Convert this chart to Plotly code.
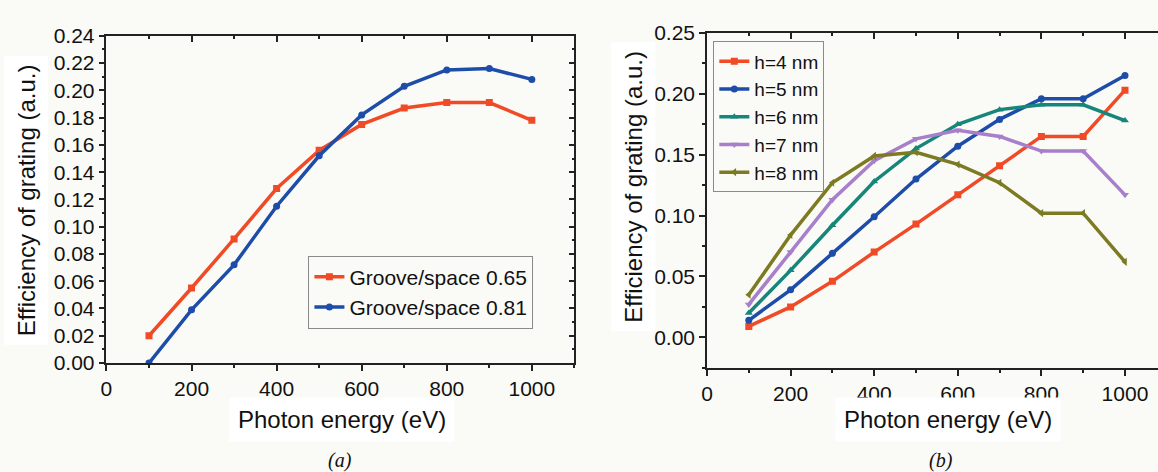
import plotly.graph_objects as go

# ---------------- data ----------------
energy = [100, 200, 300, 400, 500, 600, 700, 800, 900, 1000]

groove_065 = [0.020, 0.055, 0.091, 0.128, 0.156, 0.175, 0.187, 0.191, 0.191, 0.178]
groove_081 = [0.000, 0.039, 0.072, 0.115, 0.152, 0.182, 0.203, 0.215, 0.216, 0.208]

h4 = [0.009, 0.025, 0.046, 0.070, 0.093, 0.117, 0.141, 0.165, 0.165, 0.203]
h5 = [0.014, 0.039, 0.069, 0.099, 0.130, 0.157, 0.179, 0.196, 0.196, 0.215]
h6 = [0.020, 0.055, 0.092, 0.128, 0.155, 0.175, 0.187, 0.191, 0.191, 0.178]
h7 = [0.027, 0.070, 0.113, 0.145, 0.163, 0.170, 0.165, 0.153, 0.153, 0.117]
h8 = [0.035, 0.084, 0.127, 0.149, 0.152, 0.142, 0.127, 0.102, 0.102, 0.062]

left_names = ["Groove/space 0.65", "Groove/space 0.81"]
right_names = ["h=4 nm", "h=5 nm", "h=6 nm", "h=7 nm", "h=8 nm"]
x_ticks = [0, 200, 400, 600, 800, 1000]

RED = "#F04A26"
BLUE = "#1D4DA8"
TEAL = "#17867A"
PURPLE = "#A77FCB"
OLIVE = "#7C7A22"
BG = "#FAFAF6"
FONT = "Liberation Sans, Arial, sans-serif"

fig = go.Figure()

def add(x, y, name, color, symbol, xa, ya, legend):
    fig.add_trace(go.Scatter(
        x=x, y=y, name=name, mode="lines+markers",
        line=dict(color=color, width=3.5),
        marker=dict(color=color, symbol=symbol, size=7),
        xaxis=xa, yaxis=ya, legend=legend))

add(energy, groove_065, left_names[0], RED, "square", "x", "y", "legend")
add(energy, groove_081, left_names[1], BLUE, "circle", "x", "y", "legend")

series = [h4, h5, h6, h7, h8]
colors = [RED, BLUE, TEAL, PURPLE, OLIVE]
symbols = ["square", "circle", "triangle-up", "triangle-down", "triangle-left"]
for s, n, c, m in zip(series, right_names, colors, symbols):
    add(energy, s, n, c, m, "x2", "y2", "legend2")

# dummy traces to activate mirrored tick axes
fig.add_trace(go.Scatter(x=[None], y=[None], xaxis="x3", yaxis="y3",
                         showlegend=False, hoverinfo="skip"))
fig.add_trace(go.Scatter(x=[None], y=[None], xaxis="x4", yaxis="y2",
                         showlegend=False, hoverinfo="skip"))

tickfont = dict(family=FONT, size=21, color="#111111")
axis_common = dict(showgrid=False, zeroline=False, showline=True,
                   linecolor="#222222", linewidth=1.5, tickcolor="#222222",
                   tickwidth=1.5, tickfont=tickfont)
minor_out_x = dict(dtick=100, tick0=0, ticks="outside", ticklen=3,
                   tickcolor="#222222", tickwidth=1.5)
minor_in_x = dict(dtick=100, tick0=0, ticks="inside", ticklen=3,
                  tickcolor="#222222", tickwidth=1.5)

XL = [0.0872, 0.4934]
YL = [0.2182, 0.947]
XR = [0.6085, 1.0]
YR = [0.2076, 0.9534]

fig.update_layout(
    width=1158, height=472,
    margin=dict(l=0, r=0, t=0, b=0),
    paper_bgcolor=BG, plot_bgcolor=BG,
    xaxis=dict(domain=XL, anchor="y", range=[0, 1100], tickvals=x_ticks,
               ticks="outside", ticklen=6, minor=minor_out_x, **axis_common),
    yaxis=dict(domain=YL, anchor="x", range=[0, 0.24], dtick=0.02, tick0=0,
               tickformat=".2f", ticks="outside", ticklen=6,
               minor=dict(dtick=0.01, tick0=0, ticks="outside", ticklen=3,
                          tickcolor="#222222", tickwidth=1.5),
               **axis_common),
    xaxis3=dict(overlaying="x", anchor="y", side="top", range=[0, 1100],
                tickvals=x_ticks, ticks="inside", ticklen=6,
                showticklabels=False, minor=minor_in_x, **axis_common),
    yaxis3=dict(overlaying="y", anchor="x", side="right", range=[0, 0.24],
                dtick=0.02, tick0=0, ticks="inside", ticklen=6,
                showticklabels=False,
                minor=dict(dtick=0.01, tick0=0, ticks="inside", ticklen=3,
                           tickcolor="#222222", tickwidth=1.5),
                **axis_common),
    xaxis2=dict(domain=XR, anchor="y2", range=[0, 1079], tickvals=x_ticks,
                ticks="outside", ticklen=6, minor=minor_out_x, **axis_common),
    yaxis2=dict(domain=YR, anchor="x2", range=[-0.025, 0.25], dtick=0.05,
                tick0=0, tickformat=".2f", ticks="outside", ticklen=6,
                minor=dict(dtick=0.025, tick0=0, ticks="outside", ticklen=3,
                           tickcolor="#222222", tickwidth=1.5),
                **axis_common),
    xaxis4=dict(overlaying="x2", anchor="y2", side="top", range=[0, 1079],
                tickvals=x_ticks, ticks="inside", ticklen=6,
                showticklabels=False, minor=minor_in_x, **axis_common),
    legend=dict(x=304 / 1158, y=(472 - 256) / 472, xanchor="left", yanchor="top",
                bgcolor=BG, bordercolor="#8a8a8a", borderwidth=1,
                font=dict(family=FONT, size=21, color="#111111"),
                tracegroupgap=0, itemwidth=30),
    legend2=dict(x=711 / 1158, y=(472 - 31) / 472, xanchor="left", yanchor="top",
                 bgcolor=BG, bordercolor="#8a8a8a", borderwidth=1,
                 font=dict(family=FONT, size=19, color="#111111"),
                 tracegroupgap=0, itemwidth=30),
    showlegend=True,
)

title_font = dict(family=FONT, size=24, color="#111111")
ann = [
    dict(text="Efficiency of grating (a.u.)", x=20 / 1158, y=(472 - 198) / 472,
         textangle=-90, font=title_font),
    dict(text="Efficiency of grating (a.u.)", x=630 / 1158, y=(472 - 184) / 472,
         textangle=-90, font=title_font),
    dict(text="Photon energy (eV)", x=338 / 1158, y=(472 - 428) / 472, font=title_font),
    dict(text="Photon energy (eV)", x=947 / 1158, y=(472 - 428) / 472, font=title_font),
]
for a in ann:
    fig.add_annotation(xref="paper", yref="paper", showarrow=False,
                       xanchor="center", yanchor="middle", bgcolor="white",
                       borderpad=8, **a)

cap_font = dict(family="Liberation Serif, Times New Roman, serif", size=20,
                color="#111111")
fig.add_annotation(text="<i>(a)</i>", x=336 / 1158, y=(472 - 457) / 472,
                   xref="paper", yref="paper", showarrow=False,
                   xanchor="center", yanchor="top", font=cap_font)
fig.add_annotation(text="<i>(b)</i>", x=940 / 1158, y=(472 - 457) / 472,
                   xref="paper", yref="paper", showarrow=False,
                   xanchor="center", yanchor="top", font=cap_font)

fig.write_html("out.html")
